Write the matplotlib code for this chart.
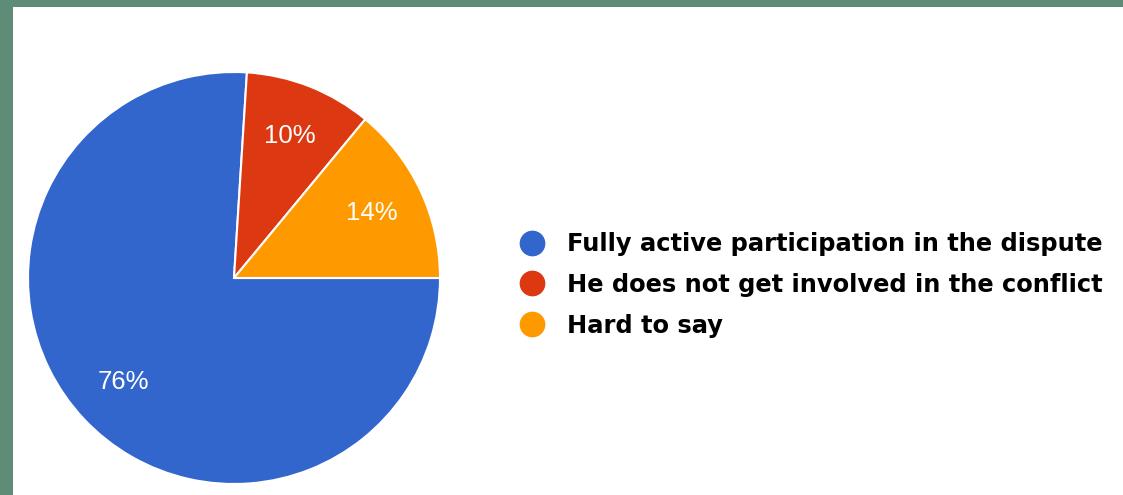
import matplotlib
matplotlib.use('Agg')
import matplotlib.pyplot as plt
from matplotlib.lines import Line2D

# Data
labels = ['Fully active participation in the dispute',
          'He does not get involved in the conflict',
          'Hard to say']
shares = [76, 10, 14]
colors = ['#3366CC', '#DC3912', '#FF9900']

W, H = 1123, 495
fig = plt.figure(figsize=(W / 100, H / 100), dpi=100)
fig.patch.set_facecolor('#5f8c76')

# white panel
panel = fig.add_axes([13 / W, 0, 1 - 13 / W, (H - 7) / H])
panel.set_axis_off()
panel.add_patch(plt.Rectangle((0, 0), 1, 1, color='white', transform=panel.transAxes))

# pie
cx, cy, r = 234, 278, 206
ax = fig.add_axes([(cx - r) / W, (H - cy - r) / H, 2 * r / W, 2 * r / H])
wedges, _, autotexts = ax.pie(shares, colors=colors, startangle=0, counterclock=False,
                              autopct='%d%%', pctdistance=0.74,
                              wedgeprops=dict(edgecolor='white', linewidth=1.5),
                              textprops=dict(color='white', fontsize=18.5, family='Liberation Sans'))
ax.set_xlim(-1, 1)
ax.set_ylim(-1, 1)
ax.set_aspect('equal')

# legend
handles = [Line2D([], [], marker='o', linestyle='none', markersize=17.5,
                  markerfacecolor=c, markeredgecolor=c) for c in colors]
fig.legend(handles, labels, loc='upper left', bbox_to_anchor=(519 / W, (H - 232) / H),
           frameon=False, borderpad=0, borderaxespad=0, handlelength=1.1,
           handletextpad=0.9, labelspacing=0.7,
           prop=dict(family='DejaVu Sans', weight='bold', size=17.4))

fig.savefig('out.png', dpi=100, facecolor=fig.get_facecolor())
